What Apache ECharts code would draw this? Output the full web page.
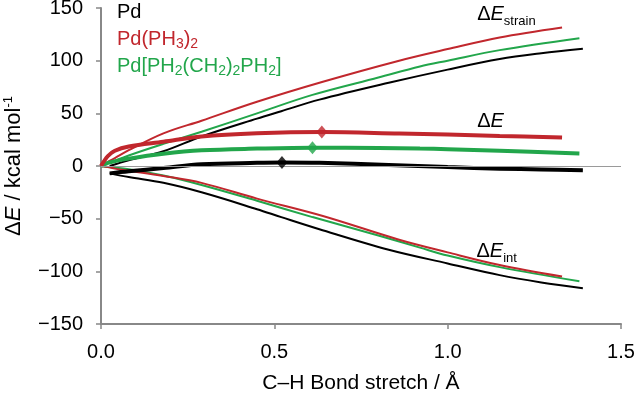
<!DOCTYPE html>
<html>
<head>
<meta charset="utf-8">
<script src="https://cdn.jsdelivr.net/npm/echarts@6/dist/echarts.min.js"></script>
<style>
  html, body { margin: 0; padding: 0; background: #fff; }
  #chart { width: 638px; height: 396px; }
</style>
</head>
<body>
<div id="chart"></div>
<script>
// Pd (bare)
const pdX = [0.025, 0.08, 0.18, 0.29, 0.45, 0.52, 0.63, 0.83, 1.0, 1.15, 1.27, 1.39];
const pdStrain = [0, 5.5, 14, 28, 45, 52, 63, 79, 91.5, 101.5, 107, 111.3];
const pdDE = [-7, -5, -2, 1.6, 3, 3.3, 3, 1, -1, -2.5, -3.3, -4];
const pdInt = [-7, -10.5, -16, -25, -41, -48.5, -60, -79.5, -92.5, -103.6, -110.5, -116];
const pdTS = [0.522, 3.3];

// Pd(PH3)2
const pphX = [0, 0.02, 0.04, 0.08, 0.18, 0.29, 0.45, 0.64, 0.86, 1.0, 1.15, 1.33];
const pphStrain = [0, 4, 7.5, 15, 31, 43, 61, 80, 100, 111, 122, 131.5];
const pphDE = [0, 9.5, 14.5, 18.5, 23, 28, 31, 32.2, 30.8, 29.8, 28.5, 27];
const pphInt = [0, -1, -2.5, -4.5, -9.5, -16, -31, -47.5, -70, -82, -94, -105];
const pphTS = [0.637, 32.2];

// Pd[PH2(CH2)2PH2]
const dppeX = [0, 0.02, 0.08, 0.18, 0.29, 0.45, 0.61, 0.8, 0.92, 1.0, 1.15, 1.38];
const dppeStrain = [0, 2.5, 10, 21, 32.5, 50, 67.5, 84, 94.5, 100, 110, 121.3];
const dppeDE = [0, 3, 7, 11.7, 14.9, 16.5, 17.4, 17.2, 16.5, 16, 14.5, 11.8];
const dppeInt = [0, -1, -3, -9, -18, -33, -48.5, -66, -77.5, -85, -96, -109.5];
const dppeTS = [0.61, 17.4];

const names = ['Pd', 'Pd(PH3)2', 'Pd[PH2(CH2)2PH2]'];
const legendLabels = {
  'Pd': 'Pd',
  'Pd(PH3)2': 'Pd(PH{s|3}){s|2}',
  'Pd[PH2(CH2)2PH2]': 'Pd[PH{s|2}(CH{s|2}){s|2}PH{s|2}]'
};
const colors = ['#000000', '#c1272d', '#22a64b'];

// curve annotations: [x, y, text]
const notes = [
  [1.085, 143.5, 'Δ{i|E}{sub|strain}'],
  [1.085, 42, 'Δ{i|E}'],
  [1.083, -81.5, 'Δ{i|E}{sub|int}']
];

const pairs = (xs, ys) => xs.map((x, i) => [x, ys[i]]);

const FONT = '"Liberation Sans", Arial, Helvetica, sans-serif';

function line(name, color, xs, ys, width) {
  return {
    name: name,
    type: 'line',
    data: pairs(xs, ys),
    smooth: 0.35,
    showSymbol: false,
    symbol: 'none',
    lineStyle: { color: color, width: width },
    itemStyle: { color: color },
    z: width > 3 ? 4 : 3
  };
}

function tsPoint(name, color, pt) {
  return {
    name: name,
    type: 'scatter',
    data: [pt],
    symbol: 'diamond',
    symbolSize: [11, 13],
    itemStyle: { color: color },
    z: 6
  };
}

const chart = echarts.init(document.getElementById('chart'));

const series = [
  line(names[0], colors[0], pdX, pdStrain, 2),
  line(names[0], colors[0], pdX, pdInt, 2),
  line(names[0], colors[0], pdX, pdDE, 4),
  line(names[2], colors[2], dppeX, dppeStrain, 2),
  line(names[2], colors[2], dppeX, dppeInt, 2),
  line(names[2], colors[2], dppeX, dppeDE, 4),
  line(names[1], colors[1], pphX, pphStrain, 2),
  line(names[1], colors[1], pphX, pphInt, 2),
  line(names[1], colors[1], pphX, pphDE, 4),
  tsPoint(names[0], colors[0], pdTS),
  tsPoint(names[2], colors[2], dppeTS),
  tsPoint(names[1], colors[1], pphTS)
];

// zero line
series[0].markLine = {
  silent: true,
  symbol: 'none',
  label: { show: false },
  lineStyle: { color: '#9a9a9a', width: 1, type: 'solid' },
  data: [{ yAxis: 0 }]
};

// annotations
series[6].markPoint = {
  silent: true,
  symbol: 'circle',
  symbolSize: 1,
  itemStyle: { color: 'rgba(0,0,0,0)' },
  label: {
    show: true,
    position: 'inside',
    align: 'left',
    color: '#000',
    fontSize: 20,
    fontFamily: FONT,
    lineHeight: 26,
    rich: {
      i: { fontStyle: 'italic', fontSize: 20, color: '#000' },
      sub: { fontSize: 13, lineHeight: 10, verticalAlign: 'bottom', color: '#000' }
    }
  },
  data: notes.map(n => ({ coord: [n[0], n[1]], label: { formatter: n[2] } }))
};

const option = {
  animation: false,
  textStyle: { fontFamily: FONT },
  grid: { left: 101, right: 17, top: 8, bottom: 72, outerBoundsMode: 'none', containLabel: false },
  legend: {
    orient: 'vertical',
    left: 112,
    top: 1,
    padding: 0,
    icon: 'none',
    itemWidth: 0,
    itemHeight: 0,
    itemGap: 4,
    selectedMode: false,
    data: names.map((n, i) => ({ name: n, textStyle: { color: colors[i] } })),
    formatter: n => legendLabels[n],
    textStyle: {
      fontSize: 20,
      fontFamily: FONT,
      lineHeight: 23,
      rich: {
        s: { fontSize: 14, lineHeight: 12, verticalAlign: 'bottom' }
      }
    }
  },
  xAxis: {
    type: 'value',
    min: 0,
    max: 1.5,
    interval: 0.5,
    name: 'C–H Bond stretch / Å',
    nameLocation: 'middle',
    nameGap: 49,
    nameTextStyle: { fontSize: 21, color: '#000', fontFamily: FONT },
    axisLine: { show: true, onZero: false, lineStyle: { color: '#888', width: 2 } },
    axisTick: { show: true, length: 5, lineStyle: { color: '#888', width: 1.5 } },
    axisLabel: { fontSize: 20, color: '#000', margin: 18, formatter: v => v.toFixed(1) },
    splitLine: { show: false }
  },
  yAxis: {
    type: 'value',
    min: -150,
    max: 150,
    interval: 50,
    name: 'Δ{i|E} / kcal mol{sup|-1}',
    nameLocation: 'middle',
    nameGap: 75,
    nameTextStyle: {
      fontSize: 22,
      color: '#000',
      fontFamily: FONT,
      lineHeight: 24,
      rich: {
        i: { fontStyle: 'italic', fontSize: 22, color: '#000' },
        sup: { fontSize: 13, lineHeight: 12, verticalAlign: 'top', color: '#000' }
      }
    },
    axisLine: { show: true, onZero: false, lineStyle: { color: '#888', width: 2 } },
    axisTick: { show: true, length: 5, lineStyle: { color: '#888', width: 1.5 } },
    axisLabel: {
      fontSize: 20,
      color: '#000',
      margin: 18,
      formatter: v => (v < 0 ? '−' + Math.abs(v) : String(v))
    },
    splitLine: { show: false }
  },
  series: series
};

chart.setOption(option);
window.addEventListener('resize', () => chart.resize());
</script>
</body>
</html>
